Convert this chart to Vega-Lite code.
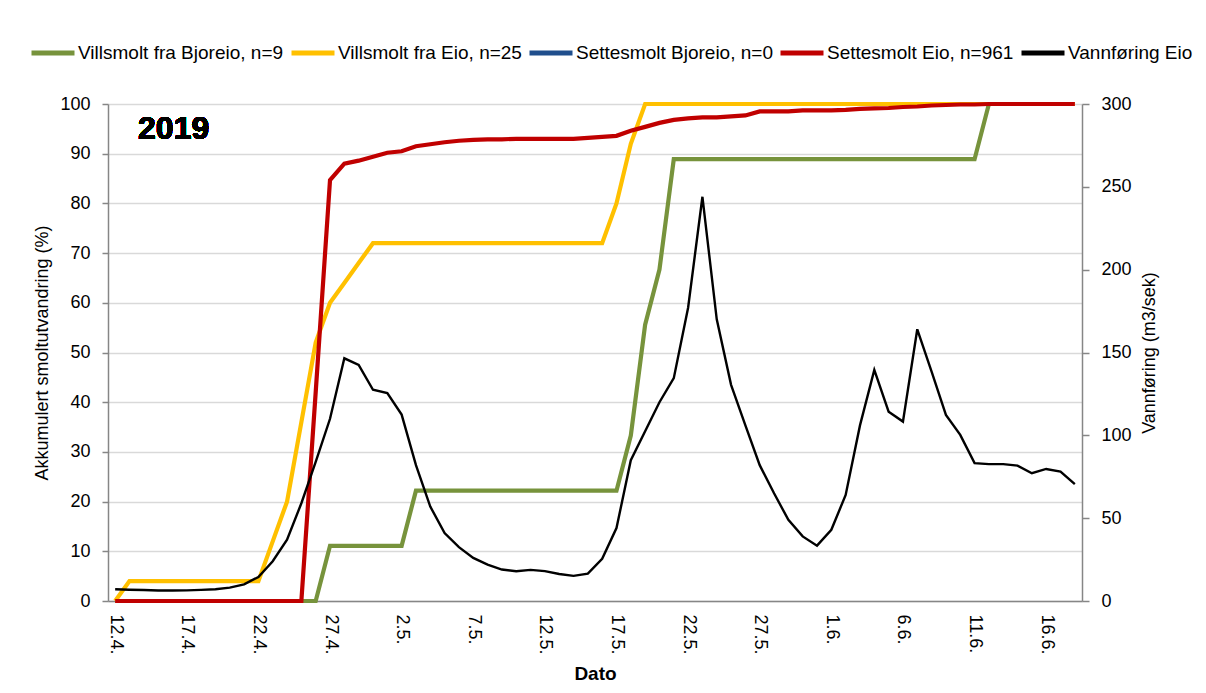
{
  "$schema": "https://vega.github.io/schema/vega-lite/v6.json",
  "width": 974,
  "height": 497,
  "autosize": {"type": "none"},
  "padding": {"left": 108, "top": 104, "right": 124, "bottom": 92},
  "background": "#ffffff",
  "config": {
    "font": "Liberation Sans",
    "view": {"stroke": null},
    "axis": {
      "labelFont": "Liberation Sans",
      "titleFont": "Liberation Sans",
      "labelColor": "#000000",
      "titleColor": "#000000",
      "domainColor": "#868686",
      "domainWidth": 1.5,
      "tickColor": "#868686",
      "tickWidth": 1.5,
      "gridColor": "#D9D9D9",
      "gridWidth": 1.5
    }
  },
  "data": {
    "values": [
      {"dato": "2019-04-12T00:00", "vb": 0, "ve": 0, "se": 0, "q": 7.1},
      {"dato": "2019-04-13T00:00", "vb": 0, "ve": 4, "se": 0, "q": 6.8},
      {"dato": "2019-04-14T00:00", "vb": 0, "ve": 4, "se": 0, "q": 6.6},
      {"dato": "2019-04-15T00:00", "vb": 0, "ve": 4, "se": 0, "q": 6.3},
      {"dato": "2019-04-16T00:00", "vb": 0, "ve": 4, "se": 0, "q": 6.3},
      {"dato": "2019-04-17T00:00", "vb": 0, "ve": 4, "se": 0, "q": 6.4},
      {"dato": "2019-04-18T00:00", "vb": 0, "ve": 4, "se": 0, "q": 6.7},
      {"dato": "2019-04-19T00:00", "vb": 0, "ve": 4, "se": 0, "q": 7.1},
      {"dato": "2019-04-20T00:00", "vb": 0, "ve": 4, "se": 0, "q": 8.1},
      {"dato": "2019-04-21T00:00", "vb": 0, "ve": 4, "se": 0, "q": 10},
      {"dato": "2019-04-22T00:00", "vb": 0, "ve": 4, "se": 0, "q": 14.5},
      {"dato": "2019-04-23T00:00", "vb": 0, "ve": 12, "se": 0, "q": 24},
      {"dato": "2019-04-24T00:00", "vb": 0, "ve": 20, "se": 0, "q": 37},
      {"dato": "2019-04-25T00:00", "vb": 0, "ve": 36, "se": 0, "q": 59},
      {"dato": "2019-04-26T00:00", "vb": 0, "ve": 52, "se": 42, "q": 84},
      {"dato": "2019-04-27T00:00", "vb": 11.1, "ve": 60, "se": 84.7, "q": 110},
      {"dato": "2019-04-28T00:00", "vb": 11.1, "ve": 64, "se": 88.0, "q": 146.5},
      {"dato": "2019-04-29T00:00", "vb": 11.1, "ve": 68, "se": 88.6, "q": 142.5},
      {"dato": "2019-04-30T00:00", "vb": 11.1, "ve": 72, "se": 89.4, "q": 127.5},
      {"dato": "2019-05-01T00:00", "vb": 11.1, "ve": 72, "se": 90.2, "q": 125.5},
      {"dato": "2019-05-02T00:00", "vb": 11.1, "ve": 72, "se": 90.5, "q": 112.5},
      {"dato": "2019-05-03T00:00", "vb": 22.2, "ve": 72, "se": 91.5, "q": 82},
      {"dato": "2019-05-04T00:00", "vb": 22.2, "ve": 72, "se": 91.9, "q": 57},
      {"dato": "2019-05-05T00:00", "vb": 22.2, "ve": 72, "se": 92.3, "q": 41},
      {"dato": "2019-05-06T00:00", "vb": 22.2, "ve": 72, "se": 92.6, "q": 32.5},
      {"dato": "2019-05-07T00:00", "vb": 22.2, "ve": 72, "se": 92.8, "q": 26},
      {"dato": "2019-05-08T00:00", "vb": 22.2, "ve": 72, "se": 92.9, "q": 22},
      {"dato": "2019-05-09T00:00", "vb": 22.2, "ve": 72, "se": 92.9, "q": 19},
      {"dato": "2019-05-10T00:00", "vb": 22.2, "ve": 72, "se": 93.0, "q": 18},
      {"dato": "2019-05-11T00:00", "vb": 22.2, "ve": 72, "se": 93.0, "q": 18.8},
      {"dato": "2019-05-12T00:00", "vb": 22.2, "ve": 72, "se": 93.0, "q": 18},
      {"dato": "2019-05-13T00:00", "vb": 22.2, "ve": 72, "se": 93.0, "q": 16.3},
      {"dato": "2019-05-14T00:00", "vb": 22.2, "ve": 72, "se": 93.0, "q": 15.2},
      {"dato": "2019-05-15T00:00", "vb": 22.2, "ve": 72, "se": 93.2, "q": 16.5},
      {"dato": "2019-05-16T00:00", "vb": 22.2, "ve": 72, "se": 93.4, "q": 25.5},
      {"dato": "2019-05-17T00:00", "vb": 22.2, "ve": 80, "se": 93.6, "q": 44},
      {"dato": "2019-05-18T00:00", "vb": 33.3, "ve": 92, "se": 94.6, "q": 85},
      {"dato": "2019-05-19T00:00", "vb": 55.6, "ve": 100, "se": 95.4, "q": 102.5},
      {"dato": "2019-05-20T00:00", "vb": 66.7, "ve": 100, "se": 96.2, "q": 120},
      {"dato": "2019-05-21T00:00", "vb": 88.9, "ve": 100, "se": 96.8, "q": 134.5},
      {"dato": "2019-05-22T00:00", "vb": 88.9, "ve": 100, "se": 97.1, "q": 177},
      {"dato": "2019-05-23T00:00", "vb": 88.9, "ve": 100, "se": 97.3, "q": 244},
      {"dato": "2019-05-24T00:00", "vb": 88.9, "ve": 100, "se": 97.3, "q": 170},
      {"dato": "2019-05-25T00:00", "vb": 88.9, "ve": 100, "se": 97.5, "q": 130.5},
      {"dato": "2019-05-26T00:00", "vb": 88.9, "ve": 100, "se": 97.7, "q": 106},
      {"dato": "2019-05-27T00:00", "vb": 88.9, "ve": 100, "se": 98.5, "q": 82},
      {"dato": "2019-05-28T00:00", "vb": 88.9, "ve": 100, "se": 98.5, "q": 65},
      {"dato": "2019-05-29T00:00", "vb": 88.9, "ve": 100, "se": 98.5, "q": 49},
      {"dato": "2019-05-30T00:00", "vb": 88.9, "ve": 100, "se": 98.7, "q": 39},
      {"dato": "2019-05-31T00:00", "vb": 88.9, "ve": 100, "se": 98.7, "q": 33.4},
      {"dato": "2019-06-01T00:00", "vb": 88.9, "ve": 100, "se": 98.7, "q": 43},
      {"dato": "2019-06-02T00:00", "vb": 88.9, "ve": 100, "se": 98.8, "q": 64},
      {"dato": "2019-06-03T00:00", "vb": 88.9, "ve": 100, "se": 99.0, "q": 106},
      {"dato": "2019-06-04T00:00", "vb": 88.9, "ve": 100, "se": 99.1, "q": 139.5},
      {"dato": "2019-06-05T00:00", "vb": 88.9, "ve": 100, "se": 99.2, "q": 114.3},
      {"dato": "2019-06-06T00:00", "vb": 88.9, "ve": 100, "se": 99.4, "q": 108.3},
      {"dato": "2019-06-07T00:00", "vb": 88.9, "ve": 100, "se": 99.5, "q": 164},
      {"dato": "2019-06-08T00:00", "vb": 88.9, "ve": 100, "se": 99.7, "q": 138.5},
      {"dato": "2019-06-09T00:00", "vb": 88.9, "ve": 100, "se": 99.8, "q": 112.3},
      {"dato": "2019-06-10T00:00", "vb": 88.9, "ve": 100, "se": 99.9, "q": 100.3},
      {"dato": "2019-06-11T00:00", "vb": 88.9, "ve": 100, "se": 99.9, "q": 83.2},
      {"dato": "2019-06-12T00:00", "vb": 100, "ve": 100, "se": 100, "q": 82.6},
      {"dato": "2019-06-13T00:00", "vb": 100, "ve": 100, "se": 100, "q": 82.6},
      {"dato": "2019-06-14T00:00", "vb": 100, "ve": 100, "se": 100, "q": 81.7},
      {"dato": "2019-06-15T00:00", "vb": 100, "ve": 100, "se": 100, "q": 77.1},
      {"dato": "2019-06-16T00:00", "vb": 100, "ve": 100, "se": 100, "q": 79.7},
      {"dato": "2019-06-17T00:00", "vb": 100, "ve": 100, "se": 100, "q": 78.1},
      {"dato": "2019-06-18T00:00", "vb": 100, "ve": 100, "se": 100, "q": 70.5}
    ]
  },
  "encoding": {
    "x": {
      "field": "dato",
      "type": "temporal",
      "scale": {
        "domain": [
          {"year": 2019, "month": 4, "date": 11, "hours": 12},
          {"year": 2019, "month": 6, "date": 18, "hours": 12}
        ]
      },
      "axis": {
        "values": [
          {"year": 2019, "month": 4, "date": 12},
          {"year": 2019, "month": 4, "date": 17},
          {"year": 2019, "month": 4, "date": 22},
          {"year": 2019, "month": 4, "date": 27},
          {"year": 2019, "month": 5, "date": 2},
          {"year": 2019, "month": 5, "date": 7},
          {"year": 2019, "month": 5, "date": 12},
          {"year": 2019, "month": 5, "date": 17},
          {"year": 2019, "month": 5, "date": 22},
          {"year": 2019, "month": 5, "date": 27},
          {"year": 2019, "month": 6, "date": 1},
          {"year": 2019, "month": 6, "date": 6},
          {"year": 2019, "month": 6, "date": 11},
          {"year": 2019, "month": 6, "date": 16}
        ],
        "format": "%-d.%-m.",
        "labelAngle": 90,
        "labelFontSize": 18,
        "labelPadding": 13,
        "ticks": false,
        "grid": false,
        "labelFlush": false,
        "labelOverlap": false,
        "title": "Dato",
        "titleFontSize": 19,
        "titleFontWeight": "bold",
        "titlePadding": 10
      }
    }
  },
  "layer": [
    {
      "layer": [
        {
          "mark": {"type": "line", "strokeWidth": 4.2},
          "encoding": {
            "y": {
              "field": "vb",
              "type": "quantitative",
              "scale": {"domain": [0, 100]},
              "axis": {
                "orient": "left",
                "values": [0, 10, 20, 30, 40, 50, 60, 70, 80, 90, 100],
                "grid": true,
                "tickSize": 6,
                "labelPadding": 12,
                "labelFontSize": 18,
                "title": "Akkumulert smoltutvandring (%)",
                "titleFontSize": 18,
                "titleFontWeight": "normal",
                "titlePadding": 8
              }
            },
            "color": {
              "datum": "Villsmolt fra Bjoreio, n=9",
              "scale": {
                "domain": [
                  "Villsmolt fra Bjoreio, n=9",
                  "Villsmolt fra Eio, n=25",
                  "Settesmolt Bjoreio, n=0",
                  "Settesmolt Eio, n=961",
                  "Vannføring Eio"
                ],
                "range": ["#77933C", "#FFC000", "#1F4E8C", "#C00000", "#000000"]
              },
              "legend": {
                "orient": "none",
                "legendX": -79,
                "legendY": -75,
                "direction": "horizontal",
                "title": null,
                "symbolType": "stroke",
                "symbolSize": 1849,
                "symbolStrokeWidth": 5,
                "labelFont": "Liberation Sans",
                "labelFontSize": 19,
                "labelColor": "#000000",
                "labelLimit": 600,
                "labelOffset": 1,
                "columnPadding": -3,
                "padding": 0
              }
            }
          }
        },
        {
          "mark": {"type": "line", "strokeWidth": 4.2},
          "encoding": {
            "y": {"field": "ve", "type": "quantitative", "title": "Akkumulert smoltutvandring (%)"},
            "color": {"datum": "Villsmolt fra Eio, n=25"}
          }
        },
        {
          "mark": {"type": "line", "strokeWidth": 4.2},
          "encoding": {
            "y": {"field": "se", "type": "quantitative", "title": "Akkumulert smoltutvandring (%)"},
            "color": {"datum": "Settesmolt Eio, n=961"}
          }
        },
        {
          "mark": {"type": "text", "font": "Liberation Sans", "fontSize": 32, "fontWeight": "bold", "color": "#000000", "align": "center", "baseline": "middle"},
          "encoding": {
            "x": {"datum": {"year": 2019, "month": 4, "date": 16, "hours": 2}, "type": "temporal"},
            "y": {"datum": 95, "type": "quantitative", "title": "Akkumulert smoltutvandring (%)"},
            "text": {"value": "2019"}
          }
        }
      ]
    },
    {
      "mark": {"type": "line", "strokeWidth": 2.4},
      "encoding": {
        "y": {
          "field": "q",
          "type": "quantitative",
          "scale": {"domain": [0, 300]},
          "axis": {
            "orient": "right",
            "values": [0, 50, 100, 150, 200, 250, 300],
            "grid": false,
            "tickSize": 7,
            "labelPadding": 12,
            "labelFontSize": 18,
            "title": "Vannføring (m3/sek)",
            "titleFontSize": 18,
            "titleFontWeight": "normal",
            "titleAngle": 270,
            "titleBaseline": "top",
            "titlePadding": 9
          }
        },
        "color": {"datum": "Vannføring Eio"}
      }
    }
  ],
  "resolve": {"scale": {"y": "independent"}}
}
